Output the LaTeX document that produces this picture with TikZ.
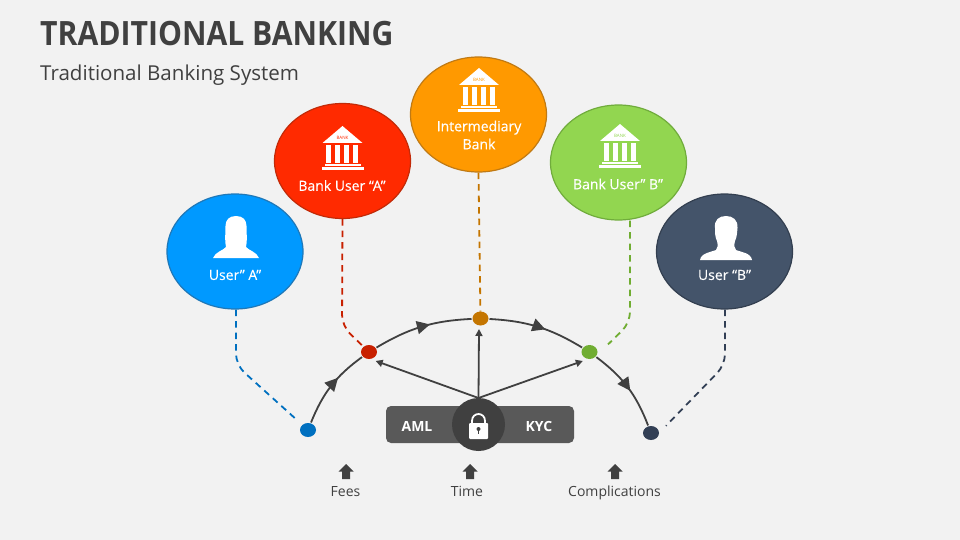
\documentclass[tikz,border=0pt]{standalone}
\usepackage{fontspec}
\setmainfont{Open Sans}
\usetikzlibrary{arrows.meta,decorations.markings,shapes.geometric}
\definecolor{bg}{HTML}{F2F2F2}
\definecolor{ink}{HTML}{404040}
\definecolor{barc}{HTML}{595959}
\definecolor{cblue}{HTML}{0099FF}\definecolor{eblue}{HTML}{1F78B8}\definecolor{dblue}{HTML}{0070C0}
\definecolor{cred}{HTML}{FF2A00}\definecolor{ered}{HTML}{C22A08}\definecolor{dred}{HTML}{C82000}
\definecolor{corange}{HTML}{FF9900}\definecolor{eorange}{HTML}{C07A14}\definecolor{dorange}{HTML}{C47500}
\definecolor{cgreen}{HTML}{92D650}\definecolor{egreen}{HTML}{70AC3C}\definecolor{dgreen}{HTML}{70AD32}
\definecolor{cnavy}{HTML}{44546A}\definecolor{enavy}{HTML}{333F50}\definecolor{dnavy}{HTML}{323F55}
\tikzset{
  bubble/.style={ellipse,draw=#1,line width=1.2pt,minimum width=136pt,minimum height=115pt,inner sep=0pt},
  dot/.style={ellipse,fill=#1,minimum width=16pt,minimum height=14pt,inner sep=0pt,outer sep=0pt},
  dashlink/.style={draw=#1,line width=1.8pt,dash pattern=on 6.5pt off 5pt,rounded corners=11pt},
  bubtext/.style={text=white,font=\addfontfeatures{FakeBold=0.25}\fontsize{14}{18}\selectfont,align=center,inner sep=0pt},
  capt/.style={text=ink,font=\fontsize{14}{18}\selectfont,inner sep=0pt,anchor=base},
  flow/.style={ink,line width=1.8pt,shorten <=1pt,shorten >=1pt,postaction={decorate},decoration={markings,mark=at position #1 with {\arrow{Triangle[length=13pt,width=13pt]}}}},
  spoke/.style={ink,line width=1.8pt,-{Triangle[length=7pt,width=7pt]}},
  pics/bankicon/.style={code={
    \fill[white] (0,0) -- (20,17) -- (-20,17) -- cycle;
    \node[text=#1,inner sep=0pt,font=\fontsize{4.5}{5}\selectfont] at (0,11.5) {BANK};
    \foreach \cx in {-14,-5,4,13}{\fill[white] (\cx-2.5,19.5) rectangle (\cx+2.5,37);}
    \fill[white] (-18,38.5) rectangle (18,40.5);
    \fill[white] (-21,41.5) rectangle (21,44);
  }},
  pics/uparrow/.style={code={
    \fill[ink] (0,0) -- (7.5,7.5) -- (4,7.5) -- (4,15) -- (-4,15) -- (-4,7.5) -- (-7.5,7.5) -- cycle;
  }}
}
\begin{document}
\begin{tikzpicture}[x=1pt,y=-1pt]
\useasboundingbox (0,0) rectangle (960,540);
\fill[bg] (0,0) rectangle (960,540);
\node[anchor=west,inner sep=0pt,text=ink,xscale=0.9,font=\bfseries\fontsize{33.5}{38}\selectfont] (title) at (40,34) {TRADITIONAL BANKING};
\node[anchor=west,inner sep=0pt,text=ink,font=\fontsize{20.55}{24}\selectfont] (subtitle) at (40,75) {Traditional Banking System};

% small dots
\node[dot=dblue] (dA) at (308,430) {};
\node[dot=dred] (dB) at (369,352) {};
\node[dot=dorange] (dC) at (480.5,318.5) {};
\node[dot=dgreen] (dD) at (589.5,352) {};
\node[dot=dnavy] (dE) at (651,433) {};

% bubbles
\node[bubble=eblue,fill=cblue] (ua) at (235,251.5) {};
\node[bubble=ered,fill=cred] (ba) at (342.5,161) {};
\node[bubble=eorange,fill=corange] (im) at (478.5,114.5) {};
\node[bubble=egreen,fill=cgreen] (bb) at (618.5,162.5) {};
\node[bubble=enavy,fill=cnavy] (ub) at (724.5,251.5) {};

% bubble contents
\pic at (342.5,126) {bankicon=cred};
\pic at (479,68) {bankicon=corange};
\pic at (620,124) {bankicon=cgreen};
\node[bubtext] (la) at (342,185.5) {Bank User “A”};
\node[bubtext] (lb) at (479,135) {Intermediary\\Bank};
\node[bubtext] (lc) at (618,184) {Bank User” B”};
\node[bubtext] (ld) at (235,275) {User” A”};
\node[bubtext] (le) at (724.5,275) {User “B”};

% female user
\fill[white] (236,216) .. controls (243,216) and (246.5,220) .. (246.5,226) .. controls (246.5,233) and (247.5,241) .. (246,247) .. controls (248,250) and (257,252) .. (259,258) -- (213,258) .. controls (215,252) and (224,250) .. (226,247) .. controls (224.5,241) and (225.5,233) .. (225.5,226) .. controls (225.5,220) and (229,216) .. (236,216) -- cycle;
% male user
\fill[white] (726,216) .. controls (733,216) and (738,220) .. (737.5,228) .. controls (737,233) and (737,237) .. (735,241) .. controls (734,245) and (734,248) .. (736,250) .. controls (741,252) and (751,253) .. (752,260) -- (700,260) .. controls (701,253) and (711,252) .. (716,250) .. controls (718,248) and (718,245) .. (717,241) .. controls (715,237) and (715,233) .. (715,228) .. controls (714,220) and (719,216) .. (726,216) -- cycle;

% dashed links
\coordinate (c1) at (236,365);
\coordinate (c2) at (342,326);
\coordinate (c3) at (630,323);
\coordinate (c4) at (725,365);
\draw[dashlink=dblue,shorten >=6pt] (c1 |- ua.south) -- (c1) -- (dA);
\draw[dashlink=dred,shorten >=1pt] (ba.south) -- (c2) -- (dB);
\draw[dashlink=dorange] (im.south) -- (dC);
\draw[dashlink=dgreen,shorten >=18pt] (c3 |- bb.south) -- (c3) -- (dD.south east);
\draw[dashlink=dnavy,shorten >=10pt] (c4 |- ub.south) -- (c4) -- (dE.east);

% flow arcs
\draw[flow=0.62] (dA) to[bend left=16] (dB);
\draw[flow=0.58] (dB) to[bend left=14] (dC);
\draw[flow=0.58] (dC) to[bend left=14] (dD);
\draw[flow=0.55] (dD) to[bend left=16] (dE);

% AML / KYC bar and lock
\fill[barc,rounded corners=5pt] (386,406) rectangle (574,443);
\node[circle,fill=ink,minimum size=53pt,inner sep=0pt,outer sep=0pt] (lock) at (478.5,424.5) {};
\node[text=white,inner sep=0pt,font=\fontsize{14}{18}\selectfont\bfseries] (aml) at (417,426) {AML};
\node[text=white,inner sep=0pt,font=\fontsize{14}{18}\selectfont\bfseries] (kyc) at (539,426) {KYC};
\draw[white,line width=1.8pt] (472,424) -- (472,421) .. controls (472,411.7) and (485,411.7) .. (485,421) -- (485,424);
\fill[white,rounded corners=1pt] (469,423) rectangle (488,439);
\fill[ink] (478.5,429) circle (2);
\fill[ink] (477.7,429) rectangle (479.3,434);

% spokes
\draw[spoke] (lock.north) -- ([shift={(-1.5,3.5)}]dC.south);
\draw[spoke] (lock.north) -- ([shift={(1,4)}]dB.south east);
\draw[spoke] (lock.north) -- ([shift={(-1,4)}]dD.south west);

% captions
\pic at (346,464) {uparrow};
\pic at (470,464) {uparrow};
\pic at (615,464) {uparrow};
\node[capt] (fe) at (345.5,496) {Fees};
\node[capt] (ti) at (467,496) {Time};
\node[capt] (co) at (614.5,496) {Complications};
\end{tikzpicture}
\end{document}
